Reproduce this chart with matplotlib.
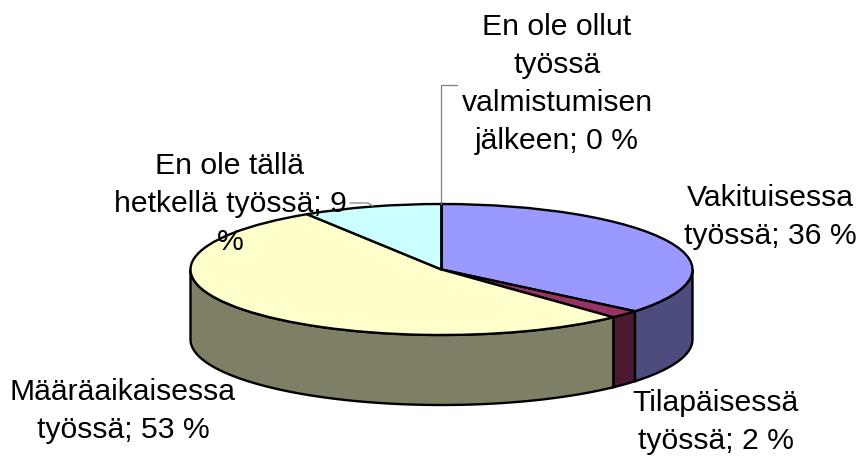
import matplotlib

matplotlib.use("Agg")
import matplotlib.pyplot as plt
import numpy as np

VALUES = [36, 2, 53, 9, 0]
LABELS = [
    "Vakituisessa\ntyössä; 36 %",
    "Tilapäisessä\ntyössä; 2 %",
    "Määräaikaisessa\ntyössä; 53 %",
    "En ole tällä\nhetkellä työssä; 9\n%",
    "En ole ollut\ntyössä\nvalmistumisen\njälkeen; 0 %",
]
TOP_COLORS = ["#9999FF", "#993366", "#FFFFCC", "#CCFFFF", "#660066"]
WALL_COLORS = ["#4C4C7F", "#4C1933", "#7F7F66", "#667F7F", "#330033"]

W, H = 862, 457
CX, CY = 441.5, 269.5
RX, RY = 251, 65.5
DEPTH = 70 / RY
EDGE = 1.7

plt.rcParams["font.family"] = ["Liberation Sans", "DejaVu Sans"]

fig = plt.figure(figsize=(W / 100, H / 100), dpi=100)
ax = fig.add_axes([0, 0, 1, 1])

ax.pie(
    VALUES,
    colors=TOP_COLORS,
    startangle=90,
    counterclock=False,
    wedgeprops={"edgecolor": "black", "linewidth": EDGE, "zorder": 3},
)
# unit circle squashed to the ellipse, one x unit = RX px, one y unit = RY px
ax.set_aspect("auto")
ax.set_xlim(-CX / RX, (W - CX) / RX)
ax.set_ylim((CY - H) / RY, CY / RY)
ax.axis("off")


def px(x, y):
    return (x - CX) / RX, (CY - y) / RY


# side walls, only the front half of the rim shows
start = 90.0
for value, color in zip(VALUES, WALL_COLORS):
    end = start - value * 3.6
    a = max(end, -180.0)
    b = min(start, 0.0)
    if b > a:
        t = np.radians(np.linspace(a, b, 120))
        xs = np.r_[np.cos(t), np.cos(t)[::-1]]
        ys = np.r_[np.sin(t), np.sin(t)[::-1] - DEPTH]
        ax.fill(xs, ys, facecolor=color, edgecolor="black", linewidth=EDGE, zorder=2)
    start = end

# leader lines
for pts in ([(441, 204), (441, 85), (457, 85)], [(350, 203), (368, 203), (373, 206)]):
    xy = np.array([px(*p) for p in pts])
    ax.plot(xy[:, 0], xy[:, 1], color="#808080", linewidth=0.9, zorder=4)

label_pos = [(770, 217), (716, 422), (123, 411), (230, 204), (557, 84)]
for label, (x, y) in zip(LABELS, label_pos):
    tx, ty = px(x, y)
    ax.text(tx, ty, label, fontsize=21.7, color="black", ha="center", va="center",
            linespacing=1.45, zorder=5)

fig.savefig("out.png", dpi=100)
plt.close(fig)
